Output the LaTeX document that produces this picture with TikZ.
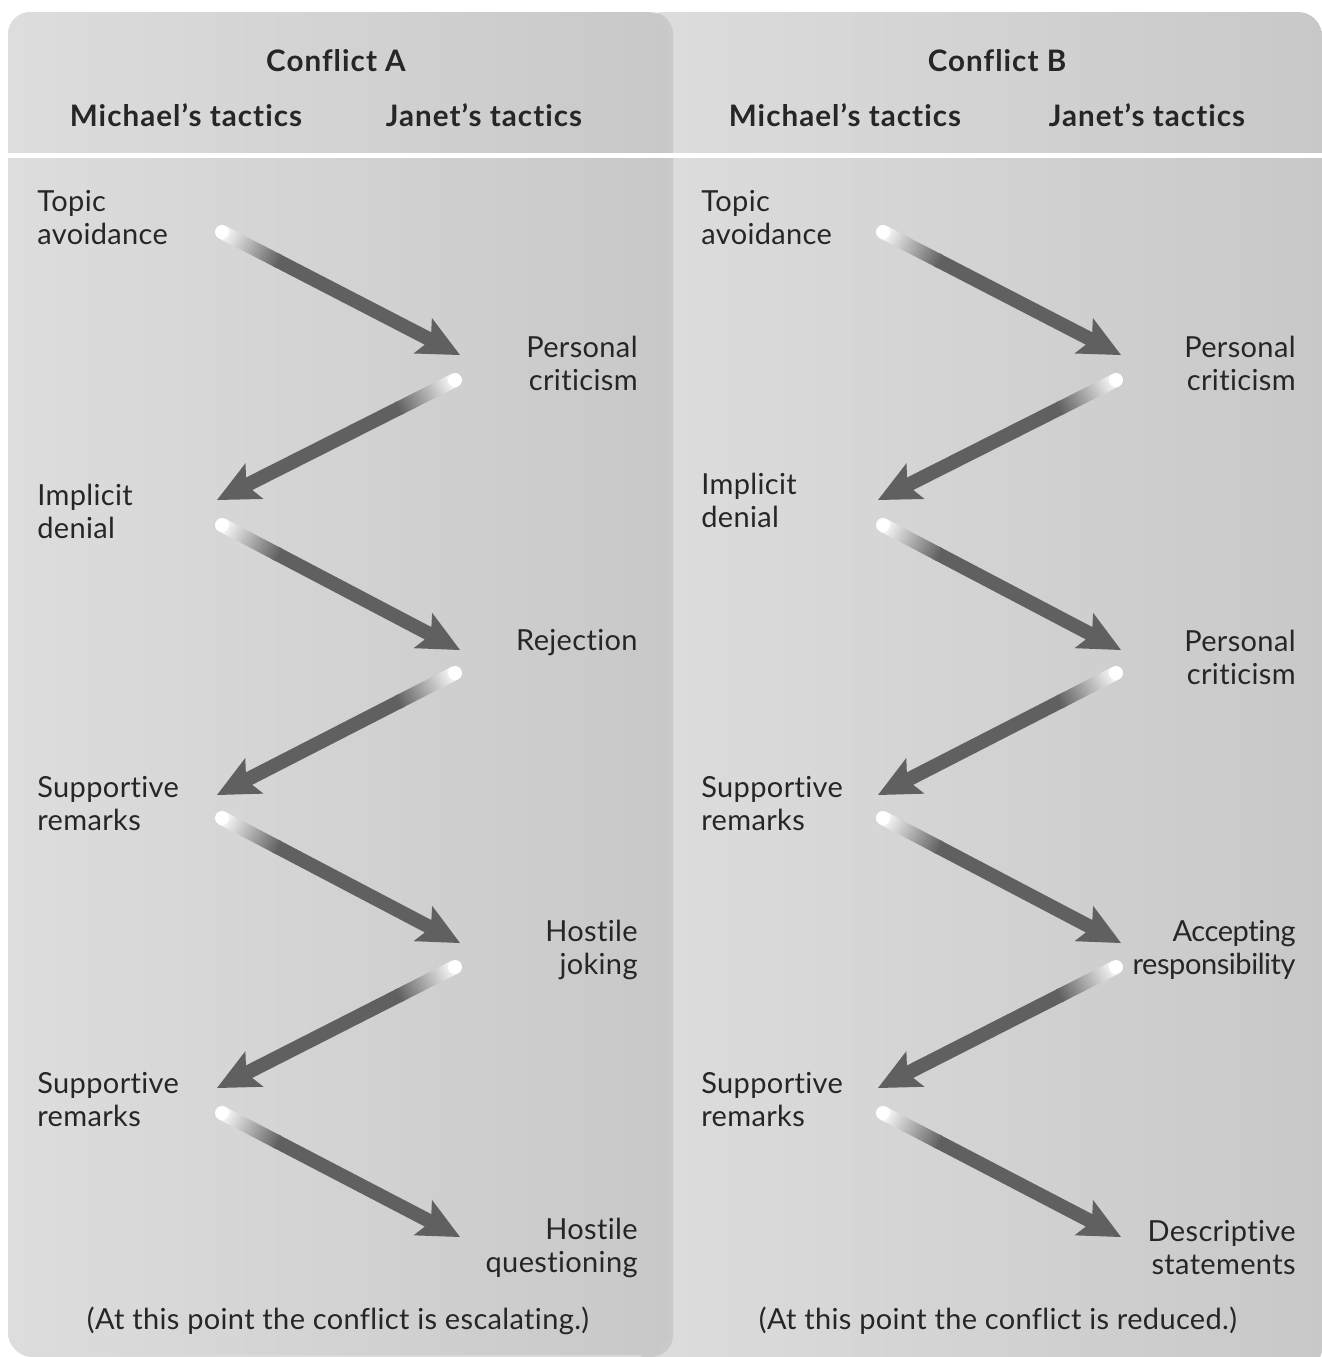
\documentclass[tikz,border=0pt]{standalone}
\usepackage{fontspec}
\setmainfont{Lato}[LetterSpace=1.2, Ligatures=NoCommon]
\newfontfamily\headfont{Lato}[LetterSpace=3.5, Ligatures=NoCommon]
\newfontfamily\tightfont{Lato}[LetterSpace=-1.5, Ligatures=NoCommon]
\usetikzlibrary{calc}

\definecolor{arrowgray}{HTML}{606061}
\definecolor{paneledge}{HTML}{DDDDDE}
\definecolor{panelfar}{HTML}{C8C8C9}
\definecolor{inktext}{HTML}{262626}
\definecolor{paneshadow}{HTML}{B9B9BA}

% Tapered arrow: fades in from a white rounded tail, solid grey shaft, triangular head
\newcommand\tacticarrow[2]{%
  \path let \p1=(#1), \p2=(#2) in
    \pgfextra{\pgfmathsetmacro\tacang{atan2(\y2-\y1,\x2-\x1)}%
              \pgfmathsetmacro\taclen{veclen(\x2-\x1,\y2-\y1)}%
              \global\let\tacangG\tacang \global\let\taclenG\taclen};
  \begin{scope}[transform canvas={shift={(#1)},rotate=\tacangG}]
    \fill[arrowgray] (30pt,-3.5pt) -- ({\taclenG pt-18pt},-3.5pt)
      -- ({\taclenG pt-21pt},-10pt) -- (\taclenG pt,0pt)
      -- ({\taclenG pt-21pt},10pt) -- ({\taclenG pt-18pt},3.5pt)
      -- (30pt,3.5pt) -- cycle;
    \shade[left color=white, right color=arrowgray] (0pt,-3.5pt) rectangle (32pt,3.5pt);
    \fill[white] (0pt,0pt) circle (3.5pt);
  \end{scope}}

\tikzset{
  lbl/.style={inner sep=0pt, text=inktext, font=\fontsize{14.5}{16.5}\selectfont},
  lefttac/.style={lbl, anchor=west, align=left},
  righttac/.style={lbl, anchor=east, align=right},
  headtxt/.style={inner sep=0pt, text=inktext, font=\headfont\fontsize{14.8}{16.5}\selectfont\bfseries},
  notetxt/.style={lbl},
}

\begin{document}
\begin{tikzpicture}[x=0.5pt, y=-0.5pt]
\useasboundingbox (0,0) rectangle (1322,1357);
\fill[white] (0,0) rectangle (1322,1357);

% panels
\shade[left color=paneledge, right color=panelfar, rounded corners=12pt]
  (640,12) rectangle (1322,1372);
\fill[paneshadow, opacity=0.5, rounded corners=11pt] (10,12) rectangle (673,1357);
\shade[left color=paneledge, right color=panelfar, rounded corners=11pt]
  (8,12) rectangle (668,1355);

% header separator
\fill[white] (8,153) rectangle (1322,158);

% ---- Conflict A ----
\node[headtxt] (hA) at (336,61) {Conflict A};
\node[headtxt] (mA) at (186,115) {Michael’s tactics};
\node[headtxt] (jA) at (484,115) {Janet’s tactics};

\node[lefttac] (A1) at (37,218) {Topic\\avoidance};
\node[righttac] (A2) at (638,363) {Personal\\criticism};
\node[lefttac] (A3) at (37,511) {Implicit\\denial};
\node[righttac] (A4) at (638,643) {Rejection};
\node[lefttac] (A5) at (37,804) {Supportive\\remarks};
\node[righttac] (A6) at (638,950) {Hostile\\joking};
\node[lefttac] (A7) at (37,1100) {Supportive\\remarks};
\node[righttac] (A8) at (638,1248) {Hostile\\questioning};
\node[notetxt] (nA) at (338,1321) {(At this point the conflict is escalating.)};

\coordinate (a1s) at (222,232);  \coordinate (a1e) at (460,355);
\coordinate (a2s) at (455,380);  \coordinate (a2e) at (217,500);
\coordinate (a3s) at (222,525);  \coordinate (a3e) at (460,650);
\coordinate (a4s) at (455,673);  \coordinate (a4e) at (217,795);
\coordinate (a5s) at (222,818);  \coordinate (a5e) at (460,943);
\coordinate (a6s) at (455,967);  \coordinate (a6e) at (217,1088);
\coordinate (a7s) at (222,1113); \coordinate (a7e) at (460,1237);

\tacticarrow{a1s}{a1e}
\tacticarrow{a2s}{a2e}
\tacticarrow{a3s}{a3e}
\tacticarrow{a4s}{a4e}
\tacticarrow{a5s}{a5e}
\tacticarrow{a6s}{a6e}
\tacticarrow{a7s}{a7e}

% ---- Conflict B ----
\node[headtxt] (hB) at (997,61) {Conflict B};
\node[headtxt] (mB) at (845,115) {Michael’s tactics};
\node[headtxt] (jB) at (1147,115) {Janet’s tactics};

\node[lefttac] (B1) at (701,218) {Topic\\avoidance};
\node[righttac] (B2) at (1296,363) {Personal\\criticism};
\node[lefttac] (B3) at (701,500) {Implicit\\denial};
\node[righttac] (B4) at (1296,657) {Personal\\criticism};
\node[lefttac] (B5) at (701,804) {Supportive\\remarks};
\node[righttac, font=\tightfont\fontsize{14.5}{16.5}\selectfont] (B6) at (1296,950) {Accepting\\responsibility};
\node[lefttac] (B7) at (701,1100) {Supportive\\remarks};
\node[righttac] (B8) at (1296,1248) {Descriptive\\statements};
\node[notetxt] (nB) at (998,1321) {(At this point the conflict is reduced.)};

\coordinate (b1s) at (883,232);   \coordinate (b1e) at (1121,355);
\coordinate (b2s) at (1116,380);  \coordinate (b2e) at (878,500);
\coordinate (b3s) at (883,525);   \coordinate (b3e) at (1121,650);
\coordinate (b4s) at (1116,673);  \coordinate (b4e) at (878,795);
\coordinate (b5s) at (883,818);   \coordinate (b5e) at (1121,943);
\coordinate (b6s) at (1116,967);  \coordinate (b6e) at (878,1088);
\coordinate (b7s) at (883,1113);  \coordinate (b7e) at (1121,1237);

\tacticarrow{b1s}{b1e}
\tacticarrow{b2s}{b2e}
\tacticarrow{b3s}{b3e}
\tacticarrow{b4s}{b4e}
\tacticarrow{b5s}{b5e}
\tacticarrow{b6s}{b6e}
\tacticarrow{b7s}{b7e}
\end{tikzpicture}
\end{document}
